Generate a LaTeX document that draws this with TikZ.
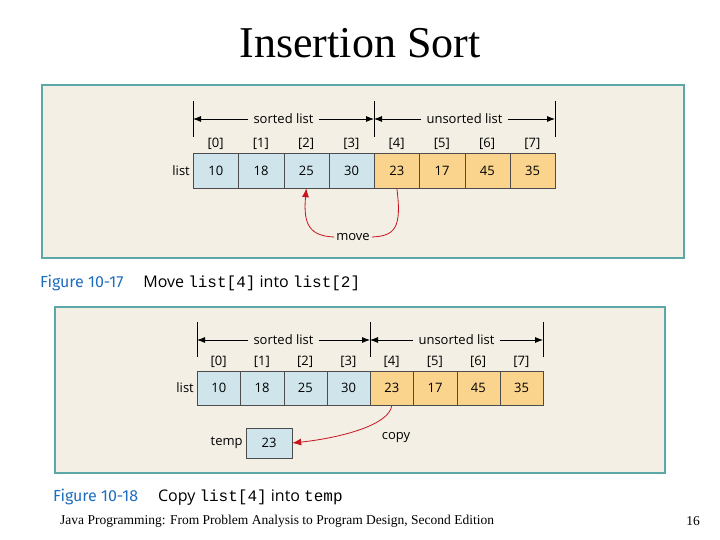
\documentclass[tikz,border=0pt]{standalone}
\usepackage{fontspec}
\setmainfont{Liberation Serif}
\newfontfamily\figfont{Open Sans}
\newfontfamily\capfont{Fira Sans}
\setmonofont{Liberation Mono}
\usepackage{tikz}
\usetikzlibrary{positioning,calc,arrows.meta}
\definecolor{panelbg}{RGB}{243,239,228}
\definecolor{panelrim}{RGB}{92,168,168}
\definecolor{sortedc}{RGB}{208,228,236}
\definecolor{unsortc}{RGB}{250,212,140}
\definecolor{capblue}{RGB}{30,110,190}
\definecolor{movered}{RGB}{200,20,30}
\tikzset{
  panel/.style={fill=panelbg, draw=panelrim, line width=1.5pt},
  cell/.style={draw=black!70, minimum height=#1, inner sep=0pt, font=\figfont\fontsize{13}{15}\selectfont},
  lbl/.style={font=\figfont\fontsize{13}{15}\selectfont, inner sep=2pt},
  span/.style={-{Latex[length=8pt,width=6pt]}, thick},
  redarr/.style={-{Latex[length=9pt,width=7pt]}, movered, thick}
}
\begin{document}
\begin{tikzpicture}[x=1pt,y=-1pt]
\useasboundingbox (0,0) rectangle (720,540);
\node[font=\fontsize{44}{48}\selectfont] (title) at (360,43) {Insertion Sort};

%first figure
\filldraw[panel] (42,85) rectangle (684,258);
\foreach \v [count=\i from 0] in {10,18,25,30,23,17,45,35}{
  \pgfmathsetmacro{\cx}{193+45.25*\i}
  \ifnum\i<4 \def\fc{sortedc}\else\def\fc{unsortc}\fi
  \node[cell=35pt, minimum width=45.25pt, fill=\fc, anchor=west] (a\i) at (\cx,170.5) {\v};
  \node[lbl] (ai\i) at (\cx+22.6,144) {[\i]};
}
\node[lbl, left=1pt of a0] (alist) {list};
\draw (193,101) -- (193,137) (374,101) -- (374,137) (555,101) -- (555,137);
\node[lbl, fill=panelbg, inner xsep=5pt] (asort) at (283.5,119) {sorted list};
\node[lbl, fill=panelbg, inner xsep=5pt] (aunsort) at (464.5,119) {unsorted list};
\draw[span] (asort.west) -- (193,119);
\draw[span] (asort.east) -- (374,119);
\draw[span] (aunsort.west) -- (374,119);
\draw[span] (aunsort.east) -- (555,119);
\node[lbl] (amove) at (353,237) {move};
\draw[movered, thick] (a4.south) .. controls (402,228) and (395,236) .. (amove.east);
\draw[redarr] (amove.west) .. controls (310,236) and (303,225) .. (a2.south);
\node[anchor=west, inner sep=0pt] (cap1) at (40,283)
  {\capfont\fontsize{16}{18}\selectfont\textcolor{capblue}{Figure 10-17}\hspace{20pt}\figfont Move \texttt{list[4]} into \texttt{list[2]}};

%second figure
\filldraw[panel] (55,307) rectangle (665,473);
\foreach \v [count=\i from 0] in {10,18,25,30,23,17,45,35}{
  \pgfmathsetmacro{\cx}{197+43.25*\i}
  \ifnum\i<4 \def\fc{sortedc}\else\def\fc{unsortc}\fi
  \node[cell=34pt, minimum width=43.25pt, fill=\fc, anchor=west] (b\i) at (\cx,388) {\v};
  \node[lbl] (bi\i) at (\cx+21.6,362) {[\i]};
}
\node[lbl, left=1pt of b0] (blist) {list};
\draw (197,322) -- (197,357) (370,322) -- (370,357) (543,322) -- (543,357);
\node[lbl, fill=panelbg, inner xsep=5pt] (bsort) at (283.5,340) {sorted list};
\node[lbl, fill=panelbg, inner xsep=5pt] (bunsort) at (456.5,340) {unsorted list};
\draw[span] (bsort.west) -- (197,340);
\draw[span] (bsort.east) -- (370,340);
\draw[span] (bunsort.west) -- (370,340);
\draw[span] (bunsort.east) -- (543,340);
\node[cell=30pt, minimum width=46pt, fill=sortedc] (tmp) at (269,443) {23};
\node[lbl, left=1pt of tmp] (tmplbl) {temp};
\node[lbl] (bcopy) at (396,438) {copy};
\draw[redarr] (b4.south) .. controls (390,425) and (340,438) .. (tmp.east);
\node[anchor=west, inner sep=0pt] (cap2) at (53,497)
  {\capfont\fontsize{16}{18}\selectfont\textcolor{capblue}{Figure 10-18}\hspace{20pt}\figfont Copy \texttt{list[4]} into \texttt{temp}};

\node[anchor=west, inner sep=0pt, font=\fontsize{13.5}{15}\selectfont] (foot) at (60,521) {Java Programming: From Problem Analysis to Program Design, Second Edition};
\node[font=\fontsize{13.5}{15}\selectfont] (page) at (693,521) {16};
\end{tikzpicture}
\end{document}
